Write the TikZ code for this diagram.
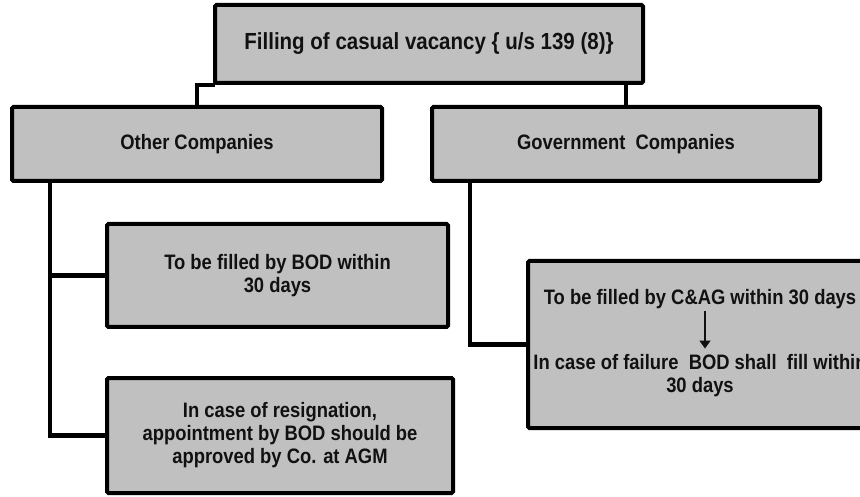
\documentclass[tikz,border=0pt]{standalone}
\usepackage{fontspec}
\setmainfont{Liberation Sans}[FakeStretch=0.88]
\usetikzlibrary{positioning,arrows,arrows.meta}
\definecolor{boxgray}{HTML}{C0C0C0}
\definecolor{inkdark}{HTML}{111111}
\tikzstyle{box}=[draw,fill=boxgray,line width=4pt,rounded corners=1.5pt,inner sep=0pt,
  align=center,text=inkdark,font=\bfseries\fontsize{20.9}{23}\selectfont]
\tikzstyle{plain}=[inner sep=0pt,align=center,text=inkdark,font=\bfseries\fontsize{20.9}{23}\selectfont]
\tikzstyle{link}=[line width=4.5pt]
\newcommand{\newBox}[5]{\node[box,minimum width=#3,minimum height=#4](#1) at #5 {#2};}
\begin{document}
\begin{tikzpicture}[x=1pt,y=1pt,>=latex]
  \clip (0,0) rectangle (860,496);
  \newBox{title}{{\fontsize{23.3}{26}\selectfont Filling of casual vacancy \{ u/s 139 (8)\}}}{428pt}{78pt}{(429,452)}
  \newBox{other}{Other Companies}{370pt}{74pt}{(197,352)}
  \newBox{gov}{Government~ Companies}{388pt}{74pt}{(626,352)}
  \newBox{bod}{To be filled by BOD within\\30 days}{341pt}{103pt}{(277.5,220.5)}
  \newBox{resign}{In case of resignation,\\appointment by BOD should be\\approved by Co. at AGM}{346pt}{115pt}{(280,60.5)}
  \newBox{cag}{}{344pt}{167pt}{(700,151.5)}
  % text inside the C&AG box
  \node[plain,anchor=base] (cagtop) at (700,191) {To be filled by C\&AG within 30 days};
  \node[plain] (cagbot) at (700,120) {In case of failure~ BOD shall~ fill within\\30 days};
  \draw[-{Triangle[width=11pt,length=8pt]},line width=1.5pt,inkdark] ([xshift=5pt,yshift=-1pt]cagtop.south) -- ([xshift=5pt,yshift=6pt]cagbot.north);
  % connectors
  \draw[link] ([xshift=2pt]title.south west) -| (other.north);
  \draw[link] (title.south -| gov.north) -- (gov.north);
  \coordinate (otherdrop) at ([xshift=40pt]other.south west);
  \draw[link] (otherdrop) |- (bod.west);
  \draw[link] (otherdrop) |- (resign.west);
  \coordinate (govdrop) at ([xshift=40pt]gov.south west);
  \draw[link] (govdrop) |- (cag.west);
\end{tikzpicture}
\end{document}
